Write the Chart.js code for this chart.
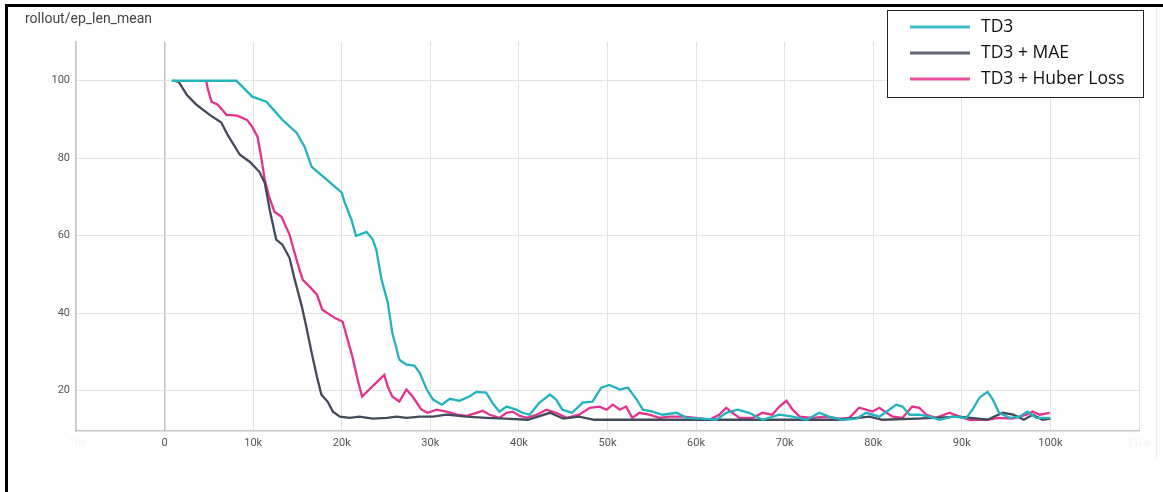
<!DOCTYPE html>
<html>
<head>
<meta charset="utf-8">
<title>rollout/ep_len_mean</title>
<script src="https://cdn.jsdelivr.net/npm/chart.js@4.4.1/dist/chart.umd.min.js"></script>
<style>
  html, body { margin: 0; padding: 0; background: #fff; }
  #wrap { position: relative; width: 1163px; height: 492px; overflow: hidden; }
  #frame { position: absolute; left: 5px; top: 4px; right: 0; bottom: 0; border-left: 3px solid #000; border-top: 3px solid #000; pointer-events: none; }
  #edge { position: absolute; left: 1156px; top: 8px; width: 1px; height: 450px; background: #ececec; }
  #title { position: absolute; left: 25px; top: 10px; font: 14px Roboto, "Noto Sans", sans-serif; color: #444; }
  canvas { position: absolute; left: 0; top: 0; }
</style>
</head>
<body>
<div id="wrap">
  <canvas id="lenChart" width="1163" height="492"></canvas>
  <div id="edge"></div>
  <div id="title">rollout/ep_len_mean</div>
  <div id="frame"></div>
</div>
<script>
// steps are in thousands
const td3Steps = [0.8, 8.1, 9.9, 11.5, 13.3, 14.9, 15.8, 16.6, 18.3, 20.0, 20.3, 21.1, 21.6, 22.0, 22.8, 23.5, 23.9, 24.5, 25.2, 25.7, 26.5, 27.3, 28.2, 28.8, 29.6, 30.3, 31.3, 32.2, 33.3, 34.4, 35.2, 36.3, 37.0, 37.8, 38.6, 39.7, 40.4, 41.2, 42.3, 43.5, 44.2, 44.9, 46.0, 47.2, 48.3, 49.3, 50.2, 51.4, 52.3, 53.3, 54.0, 55.1, 56.2, 57.8, 58.9, 60.7, 62.3, 63.4, 64.7, 66.0, 67.5, 69.4, 70.9, 72.5, 73.9, 75.0, 76.5, 78.1, 79.2, 80.7, 81.8, 82.6, 83.3, 84.1, 85.2, 86.3, 87.5, 88.9, 90.5, 91.2, 92.0, 92.9, 93.5, 94.2, 95.4, 96.5, 97.4, 98.4, 99.9];
const td3Values = [100, 100, 95.9, 94.6, 89.9, 86.6, 83.0, 77.8, 74.5, 71.1, 68.8, 64.1, 60.0, 60.3, 61.0, 59.0, 56.4, 48.6, 42.7, 35.0, 28.0, 26.7, 26.5, 24.6, 20.3, 17.7, 16.4, 17.9, 17.4, 18.5, 19.7, 19.5, 16.9, 14.6, 15.9, 15.1, 14.3, 13.8, 16.9, 19.0, 17.7, 15.1, 14.3, 16.9, 17.2, 20.8, 21.5, 20.3, 20.8, 17.7, 15.1, 14.6, 13.8, 14.3, 13.0, 12.8, 12.5, 14.3, 15.1, 14.3, 12.5, 13.8, 13.3, 12.5, 14.3, 13.3, 12.5, 12.8, 14.3, 13.3, 15.1, 16.4, 15.9, 13.8, 13.8, 13.3, 12.5, 13.3, 13.0, 15.1, 18.2, 19.7, 17.7, 14.3, 13.0, 13.3, 14.6, 13.0, 13.0];

const maeSteps = [1.0, 1.6, 2.5, 3.6, 5.1, 6.4, 7.1, 8.5, 9.6, 10.7, 11.3, 11.9, 12.6, 13.3, 14.1, 14.7, 15.5, 16.0, 16.6, 17.2, 17.7, 18.4, 19.0, 19.8, 20.9, 22.0, 23.5, 25.1, 26.2, 27.3, 28.8, 30.3, 31.8, 34.1, 36.3, 38.5, 41.0, 43.5, 45.0, 46.8, 48.5, 52.0, 56.0, 60.0, 64.0, 68.0, 72.0, 76.0, 79.6, 81.0, 85.0, 89.7, 92.9, 94.6, 95.8, 97.0, 98.0, 99.1, 100.0];
const maeValues = [100, 99.7, 96.4, 93.8, 91.2, 89.2, 86.1, 80.9, 79.1, 76.5, 73.7, 66.3, 59.0, 57.7, 54.3, 48.6, 41.7, 36.5, 29.8, 23.6, 19.0, 17.2, 14.6, 13.3, 13.0, 13.3, 12.8, 13.0, 13.3, 13.0, 13.3, 13.3, 13.8, 13.3, 13.0, 12.8, 12.5, 14.3, 12.8, 13.3, 12.5, 12.5, 12.5, 12.5, 12.5, 12.5, 12.5, 12.5, 13.3, 12.5, 12.8, 13.3, 12.5, 14.3, 13.8, 12.5, 13.8, 12.5, 12.8];

const huberSteps = [4.7, 4.9, 5.3, 6.0, 7.0, 8.2, 9.3, 9.9, 10.5, 10.9, 11.3, 11.8, 12.4, 13.2, 14.1, 15.0, 15.6, 16.4, 17.2, 17.8, 19.2, 20.1, 20.5, 21.2, 21.8, 22.3, 23.1, 23.9, 24.8, 25.2, 25.7, 26.5, 27.3, 28.0, 29.0, 29.7, 30.7, 31.8, 33.0, 34.1, 35.2, 35.9, 36.7, 37.8, 38.6, 39.3, 40.1, 40.9, 42.0, 43.1, 44.2, 45.4, 46.8, 48.0, 49.1, 49.9, 50.6, 51.4, 52.1, 52.8, 53.6, 54.7, 55.9, 57.0, 58.5, 60.0, 61.5, 62.6, 63.4, 64.1, 64.9, 66.4, 67.5, 68.6, 69.4, 70.2, 70.9, 71.7, 73.1, 74.7, 76.2, 77.3, 78.4, 79.2, 79.9, 80.7, 81.5, 82.2, 83.3, 84.1, 84.4, 85.2, 86.0, 87.1, 88.6, 89.7, 90.9, 92.8, 94.2, 95.7, 97.3, 98.0, 98.8, 99.9];
const huberValues = [100, 97.7, 94.6, 93.8, 91.2, 91.0, 89.9, 88.1, 85.5, 80.4, 74.5, 70.1, 66.2, 64.9, 60.3, 53.0, 48.6, 46.8, 44.8, 40.9, 38.8, 37.8, 34.5, 28.8, 22.8, 18.5, 20.3, 22.1, 24.1, 21.0, 18.5, 17.2, 20.3, 18.5, 15.1, 14.3, 15.1, 14.6, 13.8, 13.5, 14.3, 14.8, 13.8, 13.0, 14.3, 14.6, 13.5, 13.0, 13.8, 15.1, 14.3, 13.0, 13.8, 15.6, 15.9, 15.1, 16.4, 15.1, 15.9, 13.0, 14.3, 13.8, 13.0, 13.3, 13.3, 13.0, 12.5, 13.8, 15.6, 14.3, 13.0, 13.0, 14.3, 13.8, 15.9, 17.4, 15.1, 13.3, 13.0, 13.3, 12.8, 13.0, 15.6, 15.1, 14.6, 15.6, 14.3, 13.3, 13.0, 15.1, 15.9, 15.6, 13.8, 13.0, 14.3, 13.3, 12.5, 12.5, 13.0, 12.8, 13.8, 14.6, 13.8, 14.3];

const seriesLabels = ['TD3', 'TD3 + MAE', 'TD3 + Huber Loss'];
const seriesColors = ['#22b3bf', '#434b5a', '#e2338d'];
const yTicks = [20, 40, 60, 80, 100];

function toPoints(steps, values) {
  return steps.map((s, i) => ({ x: s, y: values[i] }));
}

function makeSeries(idx, steps, values) {
  return {
    label: seriesLabels[idx],
    data: toPoints(steps, values),
    borderColor: seriesColors[idx],
    backgroundColor: seriesColors[idx],
    borderWidth: 2.3,
    pointRadius: 0,
    tension: 0,
    fill: false
  };
}

// boxed legend in the top right corner
const boxLegend = {
  id: 'boxLegend',
  afterDraw(chart) {
    const ctx = chart.ctx;
    const x0 = 887, y0 = 10, w = 256, h = 87;
    ctx.save();
    ctx.fillStyle = '#fff';
    ctx.fillRect(x0, y0, w, h);
    ctx.strokeStyle = '#222';
    ctx.lineWidth = 1;
    ctx.strokeRect(x0 + 0.5, y0 + 0.5, w, h);
    ctx.font = '17.5px "Open Sans", sans-serif';
    ctx.textBaseline = 'middle';
    chart.data.datasets.forEach((ds, i) => {
      const cy = y0 + 17 + i * 26;
      ctx.strokeStyle = ds.borderColor;
      ctx.globalAlpha = 0.85;
      ctx.lineWidth = 3;
      ctx.beginPath();
      ctx.moveTo(910, cy);
      ctx.lineTo(970, cy);
      ctx.stroke();
      ctx.globalAlpha = 1;
      ctx.fillStyle = '#111';
      ctx.fillText(ds.label, 981, cy);
    });
    ctx.restore();
  }
};

const tickFont = { family: 'Roboto, "Noto Sans", sans-serif', size: 11 };

new Chart(document.getElementById('lenChart'), {
  type: 'line',
  data: {
    datasets: [
      makeSeries(0, td3Steps, td3Values),
      makeSeries(1, maeSteps, maeValues),
      makeSeries(2, huberSteps, huberValues)
    ]
  },
  options: {
    responsive: false,
    animation: false,
    layout: { padding: { top: 42, right: 24, left: 0, bottom: 0 } },
    plugins: { legend: { display: false }, tooltip: { enabled: false } },
    scales: {
      x: {
        type: 'linear',
        min: -10,
        max: 110,
        afterFit(scale) { scale.height = 61; },
        grid: {
          drawTicks: false,
          color: c => (c.tick && c.tick.value === 0 ? '#c2c2c2' : '#e3e3e3'),
          lineWidth: c => (c.tick && c.tick.value === 0 ? 1.5 : 1)
        },
        border: { color: '#c8c8c8', width: 1.5 },
        ticks: {
          stepSize: 10,
          autoSkip: false,
          maxRotation: 0,
          padding: 6,
          font: tickFont,
          color: c => (c.tick.value < 0 || c.tick.value > 100 ? '#f6f6f6' : '#555'),
          callback: v => (v === 0 ? '0' : v + 'k')
        }
      },
      y: {
        min: 9.6,
        max: 110,
        afterFit(scale) { scale.width = 76; },
        afterBuildTicks(scale) { scale.ticks = yTicks.map(v => ({ value: v })); },
        grid: { drawTicks: false, color: '#e3e3e3' },
        border: { color: '#c8c8c8', width: 1.5 },
        ticks: { padding: 6, font: tickFont, color: '#555' }
      }
    }
  },
  plugins: [boxLegend]
});
</script>
</body>
</html>
